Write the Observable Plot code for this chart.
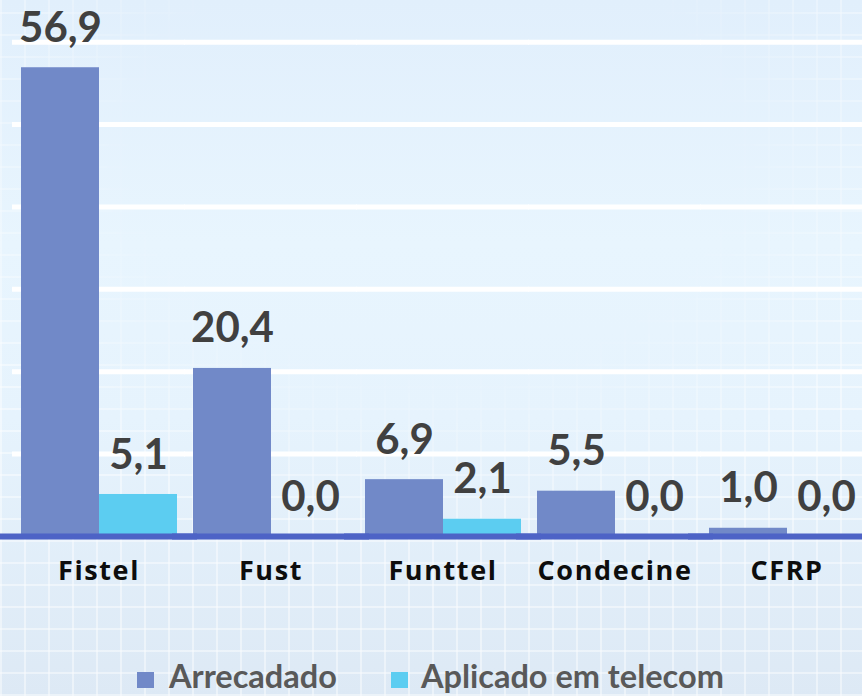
<!DOCTYPE html>
<html>
<head>
<meta charset="utf-8">
<script src="https://cdn.jsdelivr.net/npm/d3@7"></script>
<script src="https://cdn.jsdelivr.net/npm/@observablehq/plot@0.6"></script>
<style>
  html, body { margin: 0; padding: 0; }
  body {
    width: 862px; height: 696px; overflow: hidden; position: relative;
    background: linear-gradient(180deg, #e1effc 0%, #e8f5fe 35%, #e6f3fd 60%, #dde9f5 100%);
  }
  #pattern {
    position: absolute; left: 0; top: 0; width: 862px; height: 696px;
    background-image:
      repeating-linear-gradient(90deg, rgba(255,255,255,0.55) 0 2px, transparent 2px 24px),
      repeating-linear-gradient(0deg, rgba(255,255,255,0.55) 0 2px, transparent 2px 22px);
    -webkit-mask-image: radial-gradient(ellipse 60% 55% at 50% 22%, transparent 55%, rgba(0,0,0,0.8) 100%);
    mask-image: radial-gradient(ellipse 60% 55% at 50% 22%, transparent 55%, rgba(0,0,0,0.8) 100%);
  }
  #chart { position: absolute; left: 0; top: 0; }
  g[aria-description="categorias"] text { letter-spacing: 1.6px; }
  #legend {
    position: absolute; left: 137px; top: 660px; white-space: nowrap;
    font-family: Lato, sans-serif; font-weight: 700; font-size: 32.5px; line-height: 32px; color: #595959;
  }
  #legend .sw { display: inline-block; width: 17px; height: 16px; margin-right: 15px; vertical-align: baseline; }
  #legend .item2 { margin-left: 54px; }
  #legend .item2 .sw { margin-right: 13px; }
</style>
</head>
<body>
<div id="pattern"></div>
<div id="chart"></div>
<div id="legend"></div>
<script>
// ---- data ----
const categories = ["Fistel", "Fust", "Funttel", "Condecine", "CFRP"];
const series = ["Arrecadado", "Aplicado em telecom"];
const arrecadado = [56.9, 20.4, 6.9, 5.5, 1.0];
const aplicado = [5.1, 0.0, 2.1, 0.0, 0.0];
const gridValues = [10, 20, 30, 40, 50, 60];
const colors = ["#7189c8", "#5ccdf1"];

const data = [];
categories.forEach((c, i) => {
  data.push({category: c, series: series[0], value: arrecadado[i]});
  data.push({category: c, series: series[1], value: aplicado[i]});
});
const fmt = v => d3.format(".1f")(v).replace(".", ",");

const chart = Plot.plot({
  width: 862,
  height: 600,
  marginTop: 41.7,
  marginBottom: 64,
  marginLeft: 20,
  marginRight: 0,
  style: {background: "transparent", overflow: "hidden"},
  facet: {data, x: "category"},
  fx: {domain: categories, range: [20, 868.4], paddingInner: 0.0846, paddingOuter: 0, align: 0, axis: null, label: null},
  x: {domain: series, padding: 0, axis: null},
  y: {domain: [0, 60], axis: null},
  color: {domain: series, range: colors},
  marks: [
    Plot.ruleY(gridValues, {stroke: "#ffffff", strokeWidth: 5, insetLeft: -8, insetRight: -8}),
    Plot.barY(data, {x: "series", y: "value", fill: "series"}),
    Plot.ruleY([0], {stroke: "#4d63c6", strokeWidth: 6, insetLeft: -20, insetRight: -20}),
    Plot.text(data, {
      x: "series", y: "value", text: d => fmt(d.value),
      dy: -39.4, fontFamily: "Lato, sans-serif", fontWeight: 700, fontSize: 42, fill: "#404040"
    }),
    Plot.text(data, {
      filter: d => d.series === series[0],
      text: "category", frameAnchor: "bottom", dy: 43.2,
      fontFamily: "'Open Sans', sans-serif", fontWeight: 700, fontSize: 27, fill: "#0d0d0d",
      ariaDescription: "categorias"
    })
  ]
});
document.getElementById("chart").appendChild(chart);

const legend = document.getElementById("legend");
series.forEach((s, i) => {
  const span = document.createElement("span");
  span.className = "item" + (i + 1);
  const sw = document.createElement("span");
  sw.className = "sw";
  sw.style.background = colors[i];
  span.appendChild(sw);
  span.appendChild(document.createTextNode(s));
  legend.appendChild(span);
});
</script>
</body>
</html>
